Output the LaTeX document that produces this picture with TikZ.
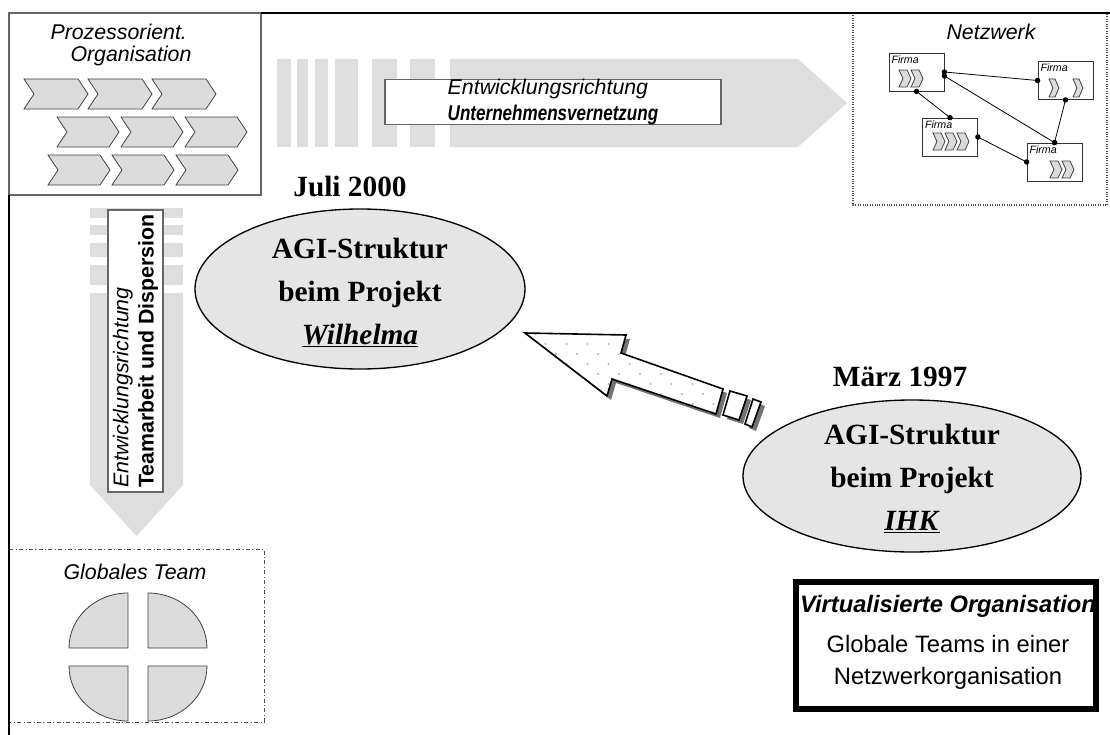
\documentclass[tikz,border=0pt]{standalone}
\usepackage{fontspec}
\setmainfont{Liberation Sans}
\newfontfamily\timesfont{Liberation Serif}
\newfontfamily\narrowfont[FakeStretch=0.8]{Liberation Sans}
\usepackage{xcolor}
\usetikzlibrary{arrows.meta}
\usetikzlibrary{shapes.geometric}

\definecolor{bandgray}{gray}{0.87}
\definecolor{chevgray}{gray}{0.86}
\definecolor{ellgray}{gray}{0.9}
\definecolor{dotgray}{gray}{0.7}

\tikzset{
  chev/.style={fill=chevgray, draw=black!75, line width=0.6pt},
  band/.style={fill=bandgray},
  beschr/.style={font=\itshape\fontsize{16}{19}\selectfont},
  textbox/.style={draw=black!60, fill=white, line width=0.8pt, align=left, inner sep=0pt,
                  font=\fontsize{16}{19}\selectfont},
  firma/.style={draw=black!80, fill=white, line width=0.6pt, minimum width=41.25pt,
                minimum height=28.5pt, inner sep=0pt},
  firmatext/.style={anchor=north west, inner sep=2pt, font=\itshape\fontsize{8}{9}\selectfont},
  link/.style={line width=0.6pt, {Circle[length=4pt]}-{Circle[length=4pt]},
               shorten <=-2pt, shorten >=-2pt},
  projekt/.style={ellipse, draw, fill=ellgray, line width=1pt, inner sep=0pt},
  projtext/.style={align=center, font=\timesfont\bfseries\fontsize{22}{32}\selectfont},
  datum/.style={font=\timesfont\bfseries\fontsize{22}{26}\selectfont},
}

% x y width height notch
\newcommand{\chevron}[5]{%
  \filldraw[chev] (#1,#2) -- ++({#3-#5},0) -- ++(#5,{#4/2}) -- ++(-#5,{#4/2})
    -- ++({-(#3-#5)},0) -- ++(#5,{-#4/2}) -- cycle;}

\begin{document}
\begin{tikzpicture}[x=0.75pt,y=-0.75pt]
  \useasboundingbox (0,0) rectangle (1110,735);

  % Prozessorientierte Organisation
  \draw[fill=white, draw=black!60, line width=0.8pt] (9,13) rectangle (261,195);
  \node[beschr, align=left, font=\itshape\fontsize{16}{17}\selectfont] (proz) at (121,45)
    {Prozessorient.\\\hspace*{15pt}Organisation};
  \foreach \x in {24,88,152} \chevron{\x}{79}{64}{30}{10};
  \foreach \x in {57,121,185} \chevron{\x}{117}{62}{30}{10};
  \foreach \x in {48,112,176} \chevron{\x}{155}{62}{30}{10};

  % Entwicklungsrichtung Unternehmensvernetzung
  \foreach \a/\b in {277/291, 297/308, 315/328, 335/358, 372/397, 410/435}
    \fill[band] (\a,59) rectangle (\b,147);
  \fill[band] (450,59) -- (798,59) -- (847,103) -- (798,147) -- (450,147) -- cycle;
  \node[textbox, minimum width=252pt, minimum height=33.75pt] (vernetz) at (553,102)
    {\itshape Entwicklungsrichtung\\{\narrowfont\bfseries\itshape Unternehmensvernetzung}};

  % Entwicklungsrichtung Teamarbeit
  \foreach \a/\b in {208/218, 225/235, 243/257, 265/285}
    \fill[band] (90,\a) rectangle (183,\b);
  \fill[band] (90,293) -- (183,293) -- (183,485) -- (136.5,536) -- (90,485) -- cycle;
  \node[textbox, rotate=90, minimum width=211.5pt, minimum height=41.25pt] (team) at (135.5,351)
    {\itshape Entwicklungsrichtung\\\bfseries Teamarbeit und Dispersion};

  % Netzwerk
  \draw[densely dotted, black!70, line width=0.8pt, fill=white] (853,13) rectangle (1107,205);
  \node[beschr] (netz) at (991,32) {Netzwerk};
  \node[firma] (f1) at (916.5,72) {};
  \node[firma] (f2) at (1065.5,80.5) {};
  \node[firma] (f3) at (950,137) {};
  \node[firma] (f4) at (1054.5,162) {};
  \foreach \f in {f1,f2,f3,f4}
    \node[firmatext] (\f-t) at (\f.north west) {Firma};
  \draw[link] (f1.east) -- (f2.west);
  \draw[link] ([yshift=-3pt]f1.east) -- (f4.north);
  \draw[link] (f1.south) -- (f3.north);
  \draw[link] (f2.south) -- (f4.north);
  \draw[link] (f3.east) -- (f4.west);
  \foreach \x in {899,911} \chevron{\x}{70}{12}{17}{4};
  \foreach \x in {1049,1073} \chevron{\x}{79}{10}{18}{4};
  \foreach \x in {933,945,957} \chevron{\x}{133}{12}{17}{4};
  \foreach \x in {1050,1062} \chevron{\x}{161}{12}{17}{4};

  % Globales Team
  \draw[dash dot, black!70, line width=0.6pt] (9,549) -- (264,549) -- (264,722) -- (9,722);
  \node[beschr] (glob) at (135,572) {Globales Team};
  \filldraw[chev] (128,648) -- (69,648) arc[start angle=180, end angle=270, x radius=59, y radius=55] -- cycle;
  \filldraw[chev] (148,648) -- (148,593) arc[start angle=270, end angle=360, x radius=59, y radius=55] -- cycle;
  \filldraw[chev] (128,666) -- (69,666) arc[start angle=180, end angle=90, x radius=59, y radius=55] -- cycle;
  \filldraw[chev] (148,666) -- (207,666) arc[start angle=0, end angle=90, x radius=59, y radius=55] -- cycle;

  % Projekte
  \node[projekt, minimum width=247.5pt, minimum height=120pt] (wilh) at (360,289) {};
  \node[projtext] (wilhtext) at ([yshift=-3pt]wilh) {AGI-Struktur\\beim Projekt\\\underline{\textit{Wilhelma}}};
  \node[datum] (juli) at (350,187) {Juli 2000};

  \node[projekt, minimum width=253.5pt, minimum height=114pt] (ihk) at (912,476) {};
  \node[projtext] (ihktext) at ([yshift=-2pt]ihk) {AGI-Struktur\\beim Projekt\\\underline{\textit{IHK}}};
  \node[datum] (maerz) at (900,377) {März 1997};

  % big arrow IHK -> Wilhelma
  \begin{scope}[shift={(4,4)}]
    \fill[black!55] (525,333) -- (626,335) -- (621,353) -- (723,389) -- (716,414)
      -- (612,379) -- (607,396) -- cycle;
    \fill[black!55] (730,391) -- (747,396) -- (739,420) -- (723,415) -- cycle;
    \fill[black!55] (753,399) -- (761,402) -- (752,427) -- (745,424) -- cycle;
  \end{scope}
  \fill[white] (525,333) -- (626,335) -- (621,353) -- (723,389) -- (716,414)
    -- (612,379) -- (607,396) -- cycle;
  \begin{scope}
    \clip (525,333) -- (626,335) -- (621,353) -- (723,389) -- (716,414)
      -- (612,379) -- (607,396) -- cycle;
    \foreach \i in {0,...,8}
      \foreach \j in {-2,...,9}
        \fill[dotgray] ({556+21*\j+10.5*mod(\i,2)},{334+10*\i}) circle[radius=0.9pt];
  \end{scope}
  \draw[line width=1.2pt, line join=miter] (525,333) -- (626,335) -- (621,353) -- (723,389)
    -- (716,414) -- (612,379) -- (607,396) -- cycle;
  \filldraw[fill=white, line width=1.2pt] (730,391) -- (747,396) -- (739,420) -- (723,415) -- cycle;
  \filldraw[fill=white, line width=1.2pt] (753,399) -- (761,402) -- (752,427) -- (745,424) -- cycle;

  % Virtualisierte Organisation
  \node[align=center, font=\fontsize{17.8}{24}\selectfont] (virttext) at (948,642)
    {{\bfseries\itshape Virtualisierte Organisation}\\[6pt]Globale Teams in einer\\Netzwerkorganisation};
  \node[draw, line width=4.5pt, minimum width=225pt, minimum height=95.25pt] (virt) at (946,645.5) {};

  % Rahmen
  \draw[line width=1.5pt] (9,195) -- (9,735);
  \draw[line width=1.5pt] (261,13) -- (1110,13);
\end{tikzpicture}
\end{document}
